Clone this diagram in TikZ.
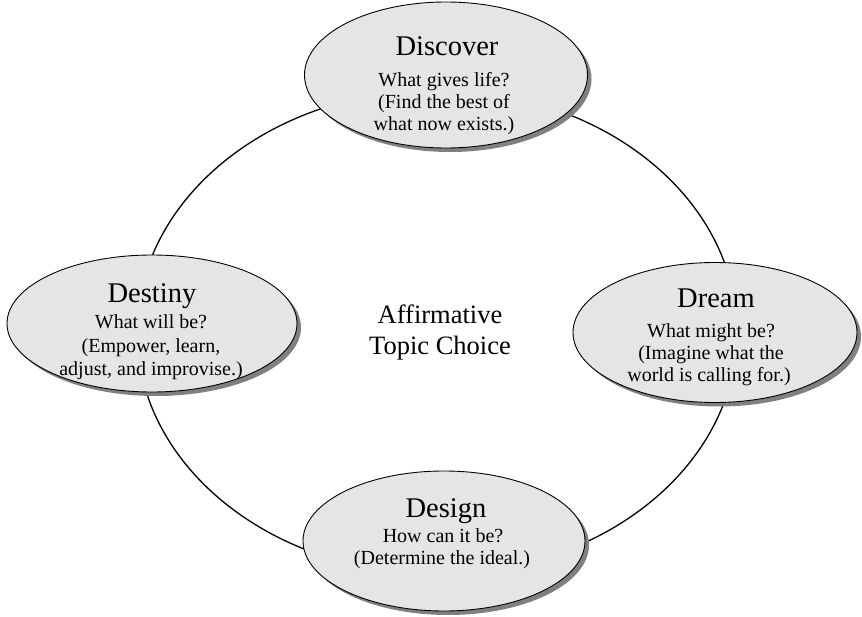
\documentclass[tikz,border=0pt]{standalone}
\usepackage{fontspec}
\setmainfont{Liberation Serif}
\usetikzlibrary{shapes.geometric,shadows}
\begin{document}
\begin{tikzpicture}[x=1pt,y=-1pt,
  phase/.style={ellipse,draw=black,line width=0.9pt,fill=gray!20,inner sep=0pt,
    drop shadow={shadow xshift=4pt,shadow yshift=-4pt,fill=black!50,opacity=1}},
  ttl/.style={anchor=base,inner sep=0pt,font=\fontsize{28.5}{30}\selectfont},
  sub/.style={anchor=base,inner sep=0pt,font=\fontsize{20}{22}\selectfont},
  ctr/.style={anchor=base,inner sep=0pt,font=\fontsize{26.5}{30}\selectfont},
  cycle/.style={line width=1.3pt,draw=black}]
\useasboundingbox (0,0) rectangle (862,617);
\coordinate (c) at (437,332);
\draw[cycle] (c) ellipse [x radius=300, y radius=242];
% ellipses
\node[phase,minimum width=283pt,minimum height=146pt] (discover) at (446,75) {};
\node[phase,minimum width=290pt,minimum height=137pt] (destiny) at (152,323.5) {};
\node[phase,minimum width=284pt,minimum height=140pt] (dream) at (715,332.5) {};
\node[phase,minimum width=282pt,minimum height=140pt] (design) at (444,541) {};
% Discover text
\node[ttl] (t1) at (447,56) {Discover};
\node[sub] (d1) at (444,87) {What gives life?};
\node[sub] (d2) at (444,109) {(Find the best of};
\node[sub] (d3) at (444,131) {what now exists.)};
% Destiny text
\node[ttl] (t2) at (152,303) {Destiny};
\node[sub] (e1) at (151,329) {What will be?};
\node[sub] (e2) at (151,353) {(Empower, learn,};
\node[sub] (e3) at (151,376) {adjust, and improvise.)};
% Dream text
\node[ttl] (t3) at (716,308) {Dream};
\node[sub] (m1) at (711,338) {What might be?};
\node[sub] (m2) at (711,360) {(Imagine what the};
\node[sub] (m3) at (709,382) {world is calling for.)};
% Design text
\node[ttl] (t4) at (446,517) {Design};
\node[sub] (g1) at (443,542) {How can it be?};
\node[sub] (g2) at (442,564) {(Determine the ideal.)};
% center
\node[ctr] (a1) at (440,324) {Affirmative};
\node[ctr] (a2) at (440,355) {Topic Choice};
\end{tikzpicture}
\end{document}
